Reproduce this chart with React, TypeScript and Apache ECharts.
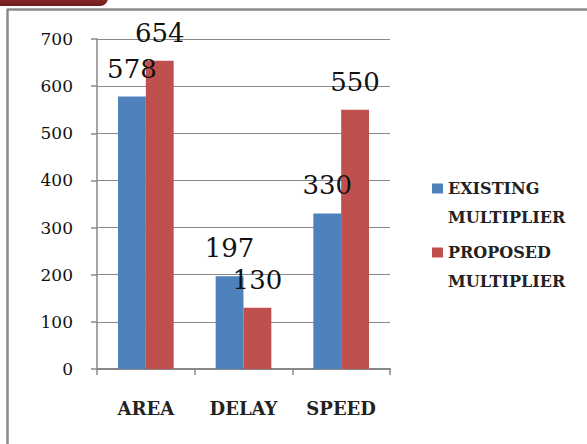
import React, { useEffect, useRef } from "react";
import * as echarts from "echarts";

const categories = ["AREA", "DELAY", "SPEED"];
const seriesNames = ["EXISTING MULTIPLIER", "PROPOSED MULTIPLIER"];
const existing = [578, 197, 330];
const proposed = [654, 130, 550];
const colors = ["#4F81BD", "#C0504D"];

export default function App() {
  const ref = useRef<HTMLDivElement>(null);
  useEffect(() => {
    if (!ref.current) return;
    const chart = echarts.init(ref.current, null, { renderer: "svg" });
    const labelStyle = {
      show: true,
      position: "top" as const,
      distance: 15,
      fontFamily: "DejaVu Serif",
      fontSize: 26,
      color: "#111",
    };
    chart.setOption({
      animation: false,
      backgroundColor: "#fff",
      grid: { left: 97, right: 197, top: 39, bottom: 75, containLabel: false },
      legend: {
        orient: "vertical",
        left: 427,
        top: 140,
        itemWidth: 11,
        itemHeight: 10,
        itemGap: -23,
        icon: "rect",
        data: seriesNames,
        formatter: (n: string) => "\n" + n.replace(" ", "\n"),
        textStyle: {
          fontFamily: "DejaVu Serif",
          fontWeight: "bold",
          fontSize: 16,
          lineHeight: 29,
          color: "#222",
        },
      },
      xAxis: {
        type: "category",
        data: categories,
        axisLine: { lineStyle: { color: "#888", width: 2 } },
        axisTick: { show: true, length: 6, lineStyle: { color: "#888", width: 1.5 } },
        axisLabel: {
          margin: 30,
          fontFamily: "DejaVu Serif",
          fontWeight: "bold",
          fontSize: 18,
          color: "#222",
        },
      },
      yAxis: {
        type: "value",
        min: 0,
        max: 700,
        interval: 100,
        axisLine: { show: true, lineStyle: { color: "#888", width: 1.5 } },
        axisTick: { show: true, length: 6, lineStyle: { color: "#888", width: 1.5 } },
        splitLine: { lineStyle: { color: "#8a8a8a", width: 1.2 } },
        axisLabel: {
          margin: 24,
          fontFamily: "DejaVu Serif",
          fontSize: 17,
          color: "#111",
        },
      },
      series: [
        {
          name: seriesNames[0],
          type: "bar",
          data: existing,
          barGap: "0%",
          barCategoryGap: "43%",
          itemStyle: { color: colors[0] },
          label: labelStyle,
        },
        {
          name: seriesNames[1],
          type: "bar",
          data: proposed,
          barGap: "0%",
          barCategoryGap: "43%",
          itemStyle: { color: colors[1] },
          label: labelStyle,
        },
      ],
      graphic: [
        {
          type: "rect",
          shape: { x: -10, y: -10, width: 118, height: 16, r: [0, 0, 8, 0] },
          style: {
            fill: new echarts.graphic.LinearGradient(0, 0, 0, 1, [
              { offset: 0, color: "#c88" },
              { offset: 0.5, color: "#8a2a2a" },
              { offset: 1, color: "#6e1c1c" },
            ]),
          },
          silent: true,
        },
        {
          type: "line",
          shape: { x1: 7, y1: 9.5, x2: 587, y2: 9.5 },
          style: { stroke: "#8a8a8a", lineWidth: 2.5 },
          silent: true,
        },
        {
          type: "line",
          shape: { x1: 7.5, y1: 9, x2: 7.5, y2: 444 },
          style: { stroke: "#8a8a8a", lineWidth: 2.5 },
          silent: true,
        },
      ],
    });
    return () => chart.dispose();
  }, []);
  return (
    <div
      ref={ref}
      style={{ position: "absolute", left: 0, top: 0, width: 587, height: 444 }}
    />
  );
}
